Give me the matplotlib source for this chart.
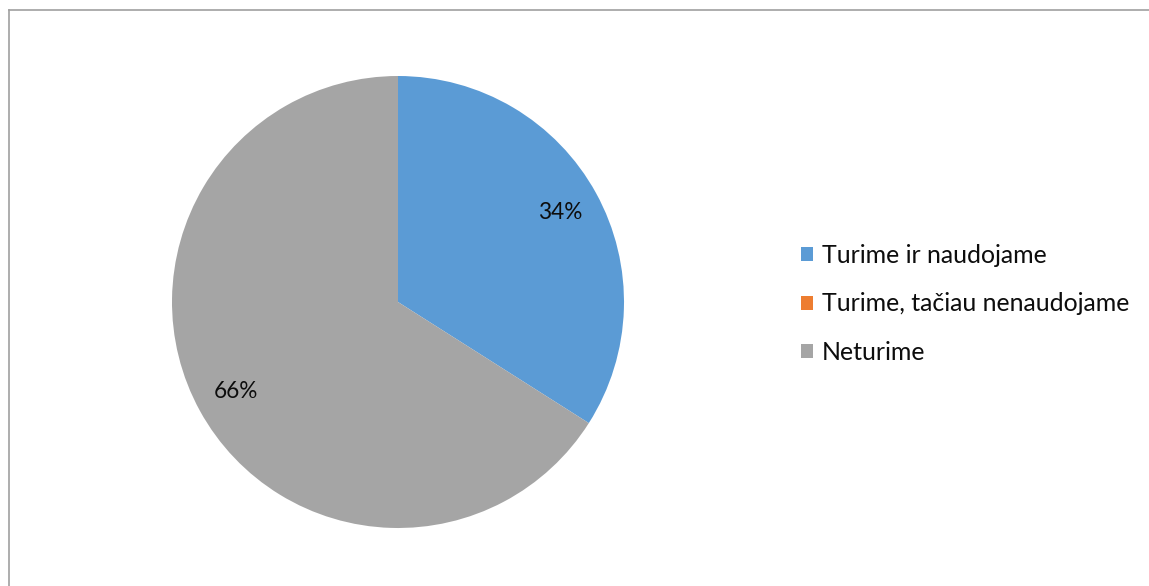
import matplotlib.pyplot as plt
from matplotlib.patches import Patch
from matplotlib.lines import Line2D

# Share of respondents by answer
labels = ["Turime ir naudojame", "Turime, tačiau nenaudojame", "Neturime"]
shares = [34, 0, 66]
colors = ["#5B9BD5", "#ED7D31", "#A5A5A5"]

plt.rcParams['font.family'] = ['Lato', 'DejaVu Sans']

W, H = 1149, 586
fig = plt.figure(figsize=(W / 100, H / 100), dpi=100)

# pie axes: centre (398, 302) px, radius 226 px
cx, cy, r = 398, 302, 226
ax = fig.add_axes([(cx - r) / W, (H - cy - r) / H, 2 * r / W, 2 * r / H])
ax.pie(shares, colors=colors, startangle=90, counterclock=False, radius=1,
       autopct=lambda p: f"{p:.0f}%" if p > 0 else "", pctdistance=0.82,
       textprops={'fontsize': 16.3, 'color': '#0d0d0d'},
       wedgeprops={'linewidth': 0})
ax.set_xlim(-1, 1)
ax.set_ylim(-1, 1)
ax.set_aspect('equal')
ax.axis('off')

# legend on the right
handles = [Patch(facecolor=c, edgecolor='none') for c in colors]
fig.legend(handles, labels, loc='center left', bbox_to_anchor=(801 / W, 1 - 304 / H),
           frameon=False, fontsize=17.9, handlelength=0.5, handleheight=0.5,
           handletextpad=0.35, labelspacing=1.03, borderpad=0, borderaxespad=0,
           labelcolor='#0d0d0d')

# outer chart frame (top and left edges only visible)
frame = '#A0A0A0'
fig.add_artist(Line2D([8.5 / W, 1.0], [1 - 10 / H, 1 - 10 / H], color=frame, lw=1.2,
                      transform=fig.transFigure))
fig.add_artist(Line2D([8.5 / W, 8.5 / W], [0, 1 - 10 / H], color=frame, lw=1.2,
                      transform=fig.transFigure))

fig.savefig("out.png", dpi=100)
